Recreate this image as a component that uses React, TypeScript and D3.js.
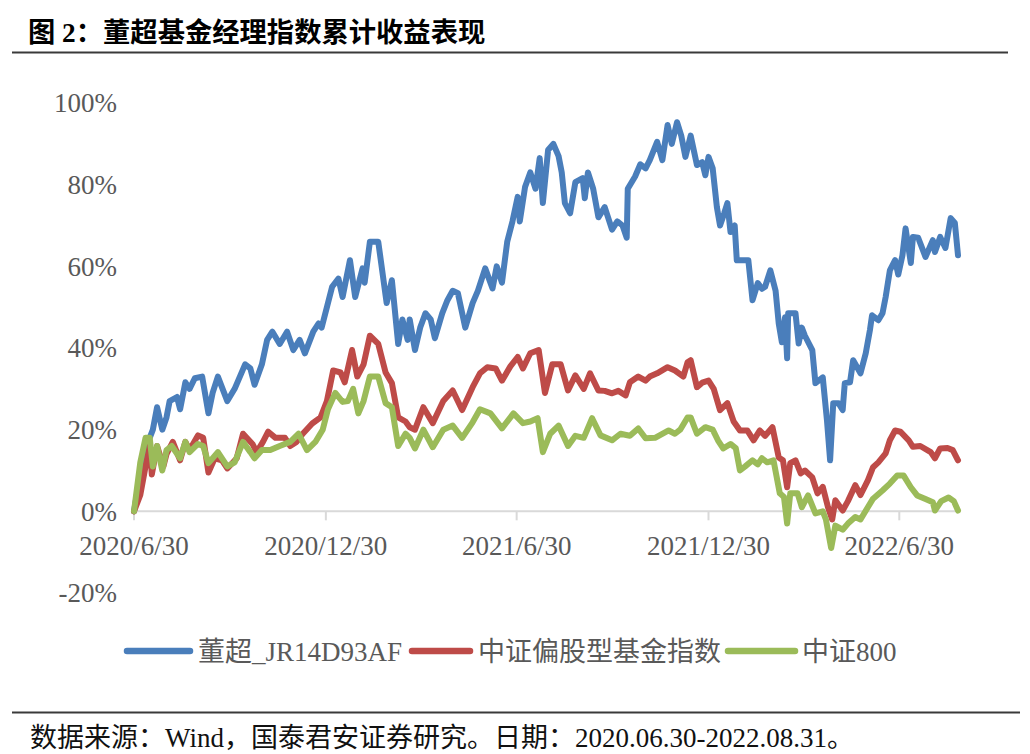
import React from "react";
import * as d3 from "d3";

// ---------- data (cumulative return, %) ----------
const dongChao: [string, number][] = [
  ["2020-06-30",0],["2020-07-06",9],["2020-07-11",17],["2020-07-15",18],["2020-07-18",20],["2020-07-22",25.5],["2020-07-27",20],["2020-07-31",23],["2020-08-03",27],["2020-08-10",28],["2020-08-13",25],["2020-08-18",31.6],["2020-08-22",30],["2020-08-27",32.6],["2020-09-03",33],["2020-09-09",24],["2020-09-13",29],["2020-09-18",33],["2020-09-27",27],["2020-10-04",30],["2020-10-14",36],["2020-10-19",35],["2020-10-23",31],["2020-10-30",36],["2020-11-04",42],["2020-11-09",44],["2020-11-16",41],["2020-11-23",44],["2020-11-29",39.5],["2020-12-05",42],["2020-12-10",38.7],["2020-12-18",44],["2020-12-23",46],["2020-12-26",45],["2020-12-31",50],["2021-01-05",55],["2021-01-11",57],["2021-01-15",52.5],["2021-01-22",61.5],["2021-01-27",52.5],["2021-02-03",59.5],["2021-02-05",56],["2021-02-10",66],["2021-02-18",66],["2021-02-26",51],["2021-03-03",56.6],["2021-03-09",41],["2021-03-13",47],["2021-03-18",42],["2021-03-20",47],["2021-03-25",39.5],["2021-03-30",45],["2021-04-04",48.5],["2021-04-09",47],["2021-04-13",42.4],["2021-04-20",48.5],["2021-04-25",51.7],["2021-04-30",54],["2021-05-05",53.4],["2021-05-12",45],["2021-05-19",51],["2021-05-24",54],["2021-05-31",59.5],["2021-06-07",54.6],["2021-06-11",60],["2021-06-16",56],["2021-06-21",66],["2021-06-26",71],["2021-07-01",77],["2021-07-03",71],["2021-07-08",79.4],["2021-07-13",83],["2021-07-18",79],["2021-07-22",86.5],["2021-07-25",75.5],["2021-07-30",88.5],["2021-08-04",90],["2021-08-09",87],["2021-08-12",83],["2021-08-15",75.5],["2021-08-20",73],["2021-08-25",80.6],["2021-09-01",81.6],["2021-09-03",76.7],["2021-09-06",83],["2021-09-11",79],["2021-09-16",72],["2021-09-22",74.5],["2021-09-29",69],["2021-10-04",71],["2021-10-09",70],["2021-10-13",67],["2021-10-14",79],["2021-10-21",82],["2021-10-26",85],["2021-10-31",84],["2021-11-04",86],["2021-11-11",90.5],["2021-11-16",86],["2021-11-21",94.6],["2021-11-25",90],["2021-11-30",95.3],["2021-12-04",92],["2021-12-08",86.8],["2021-12-13",92],["2021-12-19",84.8],["2021-12-24",85.5],["2021-12-27",82.3],["2021-12-30",86.8],["2022-01-03",84],["2022-01-07",74.5],["2022-01-10",70],["2022-01-14",73],["2022-01-17",75.5],["2022-01-20",68.4],["2022-01-24",70],["2022-01-26",61.5],["2022-02-06",61.5],["2022-02-10",51.7],["2022-02-15",55.9],["2022-02-19",54.5],["2022-02-22",55],["2022-02-27",59],["2022-03-04",54],["2022-03-07",46],["2022-03-10",41.4],["2022-03-13",47.5],["2022-03-15",37.5],["2022-03-16",48.5],["2022-03-23",48.5],["2022-03-26",41.1],["2022-03-29",45],["2022-04-01",43],["2022-04-08",39.5],["2022-04-11",31.4],["2022-04-18",32.8],["2022-04-22",22.3],["2022-04-25",12.5],["2022-04-28",26.5],["2022-05-03",26.5],["2022-05-07",24.8],["2022-05-09",31.4],["2022-05-14",31.6],["2022-05-17",37],["2022-05-24",33.8],["2022-05-29",38.7],["2022-06-02",44.4],["2022-06-04",48],["2022-06-10",46.8],["2022-06-14",48.5],["2022-06-17",52.5],["2022-06-21",59],["2022-06-26",61.5],["2022-06-29",58],["2022-07-03",62.7],["2022-07-06",69.3],["2022-07-11",60.8],["2022-07-13",67.2],["2022-07-18",67],["2022-07-25",62.3],["2022-08-01",66.4],["2022-08-03",63.5],["2022-08-08",67.2],["2022-08-13",64.5],["2022-08-18",71.8],["2022-08-22",70.6],["2022-08-25",62.7]
];

const equityFundIndex: [string, number][] = [
  ["2020-06-30",0],["2020-07-06",4],["2020-07-11",11],["2020-07-15",16],["2020-07-17",9],["2020-07-22",16],["2020-07-28",11],["2020-07-31",14],["2020-08-06",17],["2020-08-13",12.5],["2020-08-18",17],["2020-08-22",15],["2020-08-30",18.6],["2020-09-04",18],["2020-09-09",9.5],["2020-09-15",13],["2020-09-22",12.5],["2020-09-27",10.5],["2020-10-06",13],["2020-10-12",19],["2020-10-21",16.5],["2020-10-25",14.5],["2020-10-31",17],["2020-11-05",19.5],["2020-11-12",18],["2020-11-21",18],["2020-11-26",16],["2020-12-02",17],["2020-12-08",19],["2020-12-17",21.5],["2020-12-25",23],["2020-12-31",27],["2021-01-06",34.5],["2021-01-13",34],["2021-01-17",31.6],["2021-01-24",39.5],["2021-01-29",33],["2021-02-04",36],["2021-02-10",43],["2021-02-18",41],["2021-02-25",34],["2021-03-03",31.4],["2021-03-09",23],["2021-03-16",22],["2021-03-20",20.6],["2021-03-25",20],["2021-04-02",25.5],["2021-04-11",21.6],["2021-04-21",27],["2021-04-30",29.6],["2021-05-09",24.8],["2021-05-19",30.4],["2021-05-26",33.8],["2021-06-02",35.3],["2021-06-10",35],["2021-06-16",32],["2021-06-24",35.5],["2021-07-01",37.8],["2021-07-06",35],["2021-07-13",38.7],["2021-07-21",39.5],["2021-07-27",29],["2021-08-03",36],["2021-08-11",36],["2021-08-18",29.6],["2021-08-25",33.3],["2021-09-02",30],["2021-09-08",33.8],["2021-09-16",29.6],["2021-09-22",29.5],["2021-09-29",28.9],["2021-10-05",29.5],["2021-10-12",28.4],["2021-10-16",31.6],["2021-10-24",33],["2021-10-31",32],["2021-11-04",33],["2021-11-11",33.8],["2021-11-21",35.3],["2021-11-28",34.5],["2021-12-06",33],["2021-12-10",36.5],["2021-12-13",37],["2021-12-19",30.4],["2021-12-24",31.5],["2021-12-30",32],["2022-01-04",30],["2022-01-10",24.8],["2022-01-17",26.5],["2022-01-23",22],["2022-01-29",19.8],["2022-02-05",19.8],["2022-02-11",17.4],["2022-02-17",19.8],["2022-02-22",18.5],["2022-03-01",20.6],["2022-03-07",13.2],["2022-03-11",12.5],["2022-03-15",5.9],["2022-03-18",11.8],["2022-03-23",12.5],["2022-03-28",9.3],["2022-04-01",10],["2022-04-08",8.3],["2022-04-13",4.4],["2022-04-18",6],["2022-04-23",1],["2022-04-27",-2],["2022-04-30",2.7],["2022-05-07",0.2],["2022-05-12",2.5],["2022-05-19",6.4],["2022-05-24",4],["2022-05-31",7.6],["2022-06-05",10.8],["2022-06-10",12],["2022-06-17",14.2],["2022-06-21",17.4],["2022-06-26",19.8],["2022-07-01",19.5],["2022-07-09",17.4],["2022-07-13",15.8],["2022-07-20",16],["2022-07-30",14.5],["2022-08-03",13],["2022-08-08",15.4],["2022-08-15",15.5],["2022-08-20",15],["2022-08-25",12.5]
];

const csi800: [string, number][] = [
  ["2020-06-30",0],["2020-07-06",12],["2020-07-11",18],["2020-07-15",18],["2020-07-18",11],["2020-07-22",16],["2020-07-27",10],["2020-07-31",15],["2020-08-05",16],["2020-08-13",13],["2020-08-18",17],["2020-08-22",14.5],["2020-08-30",16.5],["2020-09-04",16],["2020-09-09",11.8],["2020-09-18",14.5],["2020-09-27",11],["2020-10-04",12],["2020-10-12",17],["2020-10-19",14.5],["2020-10-23",13],["2020-10-30",15],["2020-11-07",15],["2020-11-16",16],["2020-11-26",17],["2020-12-04",19],["2020-12-12",15],["2020-12-20",17],["2020-12-27",20],["2021-01-01",25],["2021-01-08",29],["2021-01-15",26.8],["2021-01-20",27],["2021-01-25",30],["2021-01-30",24],["2021-02-04",27],["2021-02-10",33],["2021-02-18",33],["2021-02-25",26.5],["2021-03-03",25.5],["2021-03-09",16],["2021-03-16",19],["2021-03-20",18],["2021-03-25",15.4],["2021-04-02",20],["2021-04-11",15.7],["2021-04-21",20],["2021-04-30",21],["2021-05-09",18],["2021-05-19",21.8],["2021-05-26",25],["2021-06-05",24],["2021-06-16",20.3],["2021-06-27",24],["2021-07-06",21.6],["2021-07-13",22],["2021-07-20",22.8],["2021-07-25",14.5],["2021-08-01",19],["2021-08-09",21],["2021-08-18",16],["2021-08-25",18.5],["2021-09-02",18],["2021-09-10",22.8],["2021-09-18",18.6],["2021-09-29",17.4],["2021-10-07",19],["2021-10-16",18.5],["2021-10-24",20.3],["2021-10-31",17.9],["2021-11-09",18],["2021-11-22",19.8],["2021-11-28",19],["2021-12-03",20],["2021-12-10",23],["2021-12-13",23],["2021-12-19",19],["2021-12-27",20.6],["2022-01-03",20],["2022-01-08",17.4],["2022-01-13",15.4],["2022-01-20",16.5],["2022-01-25",15.5],["2022-01-29",10],["2022-02-03",11],["2022-02-10",12.5],["2022-02-15",11.5],["2022-02-19",13],["2022-02-24",12],["2022-03-02",12.5],["2022-03-08",4.4],["2022-03-12",3.5],["2022-03-15",-3],["2022-03-18",4.4],["2022-03-25",4.4],["2022-03-29",1],["2022-04-04",3.9],["2022-04-11",-0.5],["2022-04-18",0],["2022-04-21",-2],["2022-04-26",-9],["2022-04-30",-3.5],["2022-05-07",-4.5],["2022-05-12",-3],["2022-05-19",-1.4],["2022-05-24",-2],["2022-05-31",1],["2022-06-05",3.1],["2022-06-14",5.1],["2022-06-21",6.8],["2022-06-28",8.8],["2022-07-04",8.8],["2022-07-11",5.9],["2022-07-17",3.9],["2022-07-25",3],["2022-08-01",2.2],["2022-08-03",0.2],["2022-08-09",2.5],["2022-08-16",3.4],["2022-08-21",2.5],["2022-08-25",0.2]
];

const seriesNames = ["董超_JR14D93AF", "中证偏股型基金指数", "中证800"];
const seriesColors = ["#4A7EBB", "#BE4B48", "#9BBB59"];
const yTicks = [-20, 0, 20, 40, 60, 80, 100];
const xTickDates = ["2020-06-30", "2020-12-30", "2021-06-30", "2021-12-30", "2022-06-30"];
const xTickLabels = ["2020/6/30", "2020/12/30", "2021/6/30", "2021/12/30", "2022/6/30"];

const titleText = "图 2：董超基金经理指数累计收益表现";
const sourceText = "数据来源：Wind，国泰君安证券研究。日期：2020.06.30-2022.08.31。";

const parse = d3.timeParse("%Y-%m-%d");
const LATIN = "'Liberation Serif', 'Times New Roman', 'Noto Sans CJK SC', serif";

export default function App() {
  const W = 1030, H = 754;
  const x = d3.scaleTime()
    .domain([parse("2020-06-30") as Date, parse("2022-08-25") as Date])
    .range([134, 958]);
  const y = d3.scaleLinear().domain([-20, 100]).range([593, 103]);

  const line = d3.line<[string, number]>()
    .x((d) => x(parse(d[0]) as Date))
    .y((d) => y(d[1]));

  const all = [dongChao, equityFundIndex, csi800];
  const legendPos = [
    { x1: 127, x2: 190, tx: 198 },
    { x1: 412, x2: 470, tx: 478 },
    { x1: 728, x2: 795, tx: 802 },
  ];
  const y0 = y(0);

  return (
    <svg width={W} height={H} style={{ position: "absolute", left: 0, top: 0, background: "#fff" }}>
      {/* title */}
      <text x={28} y={42} fontSize={27.3} fontWeight={700} fill="#000" fontFamily={LATIN}>{titleText}</text>
      <line x1={12} x2={1008} y1={52.5} y2={52.5} stroke="#3a3a3a" strokeWidth={2} />

      {/* y labels */}
      {yTicks.map((t) => (
        <text key={t} x={117} y={y(t)} dy="0.35em" textAnchor="end" fontSize={27} fill="#595959" fontFamily={LATIN}>
          {t + "%"}
        </text>
      ))}

      {/* x axis */}
      <line x1={x.range()[0]} x2={x.range()[1]} y1={y0} y2={y0} stroke="#D9D9D9" strokeWidth={2} />
      {xTickDates.map((d, i) => {
        const px = x(parse(d) as Date);
        return (
          <g key={d}>
            <line x1={px} x2={px} y1={y0} y2={y0 + 9} stroke="#D9D9D9" strokeWidth={2} />
            <text x={px} y={555} textAnchor="middle" fontSize={27} fill="#595959" fontFamily={LATIN}>
              {xTickLabels[i]}
            </text>
          </g>
        );
      })}

      {/* series */}
      {all.map((s, i) => (
        <path key={i} d={line(s) || ""} fill="none" stroke={seriesColors[i]} strokeWidth={6}
          strokeLinejoin="round" strokeLinecap="round" />
      ))}

      {/* legend */}
      {seriesNames.map((n, i) => (
        <g key={n}>
          <line x1={legendPos[i].x1} x2={legendPos[i].x2} y1={651} y2={651} stroke={seriesColors[i]}
            strokeWidth={6.5} strokeLinecap="round" />
          <text x={legendPos[i].tx} y={651} dy="0.36em" fontSize={27} fill="#595959" fontFamily={LATIN}>{n}</text>
        </g>
      ))}

      {/* footer */}
      <line x1={12} x2={1020} y1={712.5} y2={712.5} stroke="#3a3a3a" strokeWidth={2} />
      <text x={30} y={747} fontSize={27} fill="#111" fontFamily={LATIN}>{sourceText}</text>
    </svg>
  );
}
